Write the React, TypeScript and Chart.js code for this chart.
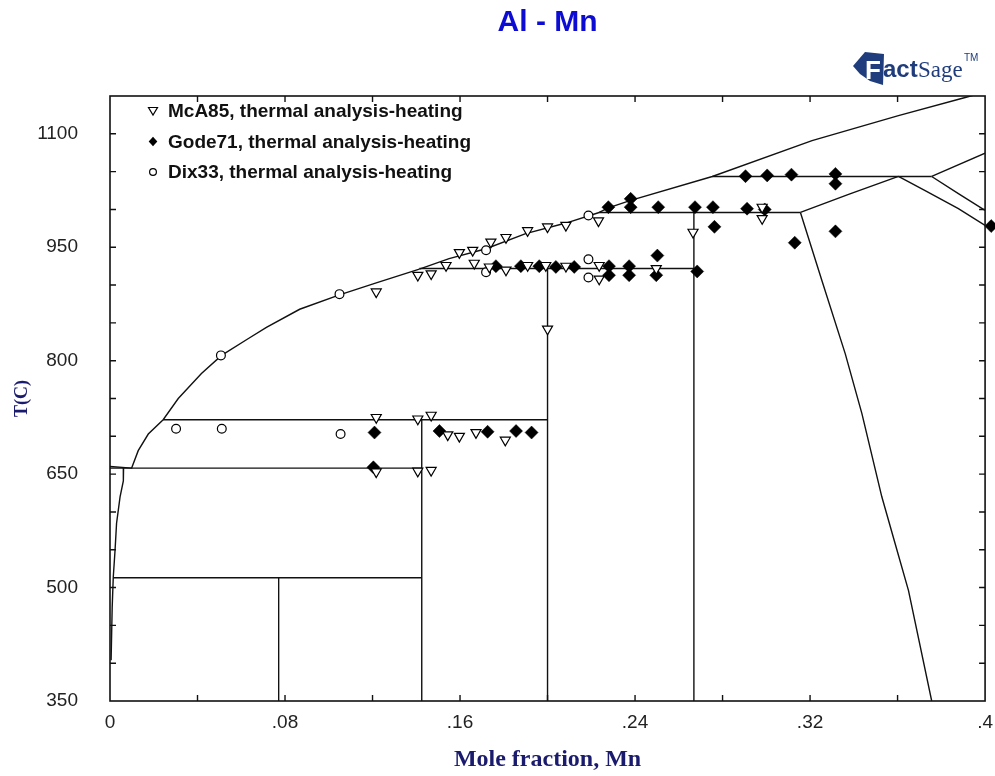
import React, { useEffect, useRef } from 'react';
import { Chart, registerables } from 'chart.js';

Chart.register(...registerables);

type P = [number, number];

// ---------- axis settings ----------
const xMin = 0;
const xMax = 0.4;
const xStep = 0.04;
const yMin = 350;
const yMax = 1150;
const yStep = 50;

// ---------- calculated phase boundaries (mole fraction Mn, T in C) ----------
const liquidusLow: P[] = [[0, 660], [0.0099, 658], [0.0129, 681], [0.0175, 703], [0.0243, 722], [0.0312, 750], [0.0418, 783], [0.051, 807], [0.0631, 829], [0.0715, 844], [0.0867, 868], [0.1049, 887], [0.1217, 903], [0.1414, 921]];
const liquidusMid: P[] = [[0.1414, 921], [0.155, 935], [0.1719, 948], [0.19, 968], [0.2084, 982], [0.2236, 996]];
const liquidusHigh: P[] = [[0.2236, 996], [0.2278, 1002], [0.238, 1012], [0.2753, 1043.6], [0.3209, 1091], [0.3604, 1124], [0.3909, 1148], [0.396, 1152]];
const solvusAl: P[] = [[0.0062, 658], [0.0061, 641], [0.0046, 620], [0.003, 585], [0.0023, 549], [0.0015, 514], [0.001, 474], [0.0005, 404]];
const eutectic658: P[] = [[0, 658], [0.1425, 658]];
const peritectic722: P[] = [[0.0243, 722], [0.2, 722]];
const line513: P[] = [[0.0015, 513], [0.1425, 513]];
const al12mn: P[] = [[0.0771, 350], [0.0771, 513]];
const al6mn: P[] = [[0.1425, 350], [0.1425, 722]];
const al4mn: P[] = [[0.2, 350], [0.2, 922]];
const peritectic922: P[] = [[0.1414, 922], [0.2669, 922]];
const al11mn4: P[] = [[0.2669, 350], [0.2669, 996]];
const peritectic996: P[] = [[0.2236, 996], [0.3156, 996]];
const peritectic1044: P[] = [[0.2753, 1043.6], [0.3756, 1043.6]];
const boundaryA: P[] = [[0.3156, 996], [0.3376, 1020], [0.3604, 1043.6]];
const boundaryB: P[] = [[0.3604, 1043.6], [0.3726, 1025], [0.3878, 1001], [0.4, 979]];
const boundaryC: P[] = [[0.3756, 1043.6], [0.3878, 1021], [0.4, 998.6]];
const boundaryD: P[] = [[0.3756, 1043.6], [0.4, 1074.4]];
const boundaryE: P[] = [[0.3156, 996], [0.3254, 906], [0.3361, 809], [0.3437, 730], [0.3528, 620], [0.3589, 558], [0.365, 496], [0.3756, 350]];

const phaseLines: P[][] = [liquidusLow, liquidusMid, liquidusHigh, solvusAl, eutectic658, peritectic722, line513, al12mn, al6mn, al4mn, peritectic922, al11mn4, peritectic996, peritectic1044, boundaryA, boundaryB, boundaryC, boundaryD, boundaryE];

// ---------- experimental points ----------
const mca85X = [0.1217, 0.1407, 0.1468, 0.1217, 0.1407, 0.1468, 0.1544, 0.1597, 0.1673, 0.1807, 0.2, 0.1217, 0.1407, 0.1468, 0.1536, 0.1597, 0.1658, 0.1741, 0.181, 0.1909, 0.2, 0.2084, 0.2233, 0.1665, 0.1734, 0.181, 0.1909, 0.1992, 0.2084, 0.2236, 0.2236, 0.2497, 0.2665, 0.2981, 0.2981];
const mca85T = [725, 723, 728, 653, 654, 655, 702, 700, 705, 695, 842, 891, 913, 915, 926, 943, 946, 957, 963, 972, 977, 979, 985, 929, 924, 920, 926, 926, 925, 926, 908, 922, 970, 1003, 988];

const gode71X = [0.1209, 0.1204, 0.1506, 0.1726, 0.1856, 0.1927, 0.1764, 0.1878, 0.1962, 0.2038, 0.2122, 0.2281, 0.2281, 0.2373, 0.2373, 0.2502, 0.2497, 0.2684, 0.2278, 0.238, 0.238, 0.2506, 0.2674, 0.2756, 0.2763, 0.2912, 0.2993, 0.313, 0.3316, 0.2905, 0.3004, 0.3115, 0.3316, 0.3316, 0.4028];
const gode71T = [705, 659, 707, 706, 707, 705, 925, 925, 925, 924, 924, 925, 913, 925, 913, 939, 913, 918, 1003, 1014, 1003, 1003, 1003, 1003, 977, 1001, 1000, 956, 971, 1044, 1045, 1046, 1047, 1034, 978];

const dix33X = [0.0302, 0.0511, 0.0507, 0.1054, 0.1049, 0.1719, 0.1719, 0.2187, 0.2187, 0.2187];
const dix33T = [710, 710, 807, 703, 888, 946, 917, 992, 934, 910];

const seriesLabels = ['McA85, thermal analysis-heating', 'Gode71, thermal analysis-heating', 'Dix33, thermal analysis-heating'];

const toPts = (xs: number[], ys: number[]) => xs.map((x, i) => ({ x, y: ys[i] }));

const sans = "'Liberation Sans', Arial, sans-serif";
const serif = "'Liberation Serif', 'Times New Roman', serif";
const navy = '#1b1b6e';

const frameTicksPlugin = {
  id: 'frameTicks',
  afterDatasetsDraw(chart: any) {
    const { ctx, chartArea: a, scales } = chart;
    const xs = scales.x;
    const ys = scales.y;
    ctx.save();
    ctx.strokeStyle = '#111';
    ctx.lineWidth = 1.6;
    ctx.strokeRect(a.left, a.top, a.right - a.left, a.bottom - a.top);
    ctx.lineWidth = 1.4;
    ctx.beginPath();
    const L = 6;
    xs.ticks.forEach((t: any) => {
      const px = xs.getPixelForValue(t.value);
      if (px <= a.left + 2 || px >= a.right - 2) return;
      ctx.moveTo(px, a.bottom);
      ctx.lineTo(px, a.bottom - L);
      ctx.moveTo(px, a.top);
      ctx.lineTo(px, a.top + L);
    });
    ys.ticks.forEach((t: any) => {
      const py = ys.getPixelForValue(t.value);
      if (py <= a.top + 2 || py >= a.bottom - 2) return;
      ctx.moveTo(a.left, py);
      ctx.lineTo(a.left + L, py);
      ctx.moveTo(a.right, py);
      ctx.lineTo(a.right - L, py);
    });
    ctx.stroke();
    ctx.restore();
  },
};

const insideLegendPlugin = {
  id: 'insideLegend',
  afterDraw(chart: any) {
    const { ctx, chartArea: a } = chart;
    ctx.save();
    const mx = a.left + 43;
    const tx = a.left + 58;
    seriesLabels.forEach((label, i) => {
      const y = a.top + 15 + i * 30.5;
      ctx.strokeStyle = '#000';
      ctx.lineWidth = 1.2;
      ctx.beginPath();
      if (i === 0) {
        ctx.moveTo(mx - 4.5, y - 3.5);
        ctx.lineTo(mx + 4.5, y - 3.5);
        ctx.lineTo(mx, y + 4);
        ctx.closePath();
        ctx.fillStyle = '#fff';
        ctx.fill();
        ctx.stroke();
      } else if (i === 1) {
        ctx.moveTo(mx, y - 4.8);
        ctx.lineTo(mx + 4.3, y);
        ctx.lineTo(mx, y + 4.8);
        ctx.lineTo(mx - 4.3, y);
        ctx.closePath();
        ctx.fillStyle = '#000';
        ctx.fill();
      } else {
        ctx.arc(mx, y, 3.4, 0, Math.PI * 2);
        ctx.fillStyle = '#fff';
        ctx.fill();
        ctx.stroke();
      }
      ctx.fillStyle = '#111';
      ctx.font = `bold 19px ${sans}`;
      ctx.textAlign = 'left';
      ctx.textBaseline = 'middle';
      ctx.fillText(label, tx, y + 1);
    });
    ctx.restore();
  },
};

const logoPlugin = {
  id: 'logo',
  afterDraw(chart: any) {
    const { ctx } = chart;
    ctx.save();
    const c = '#1f3d7c';
    ctx.fillStyle = c;
    ctx.beginPath();
    ctx.moveTo(853, 66);
    ctx.lineTo(865, 52);
    ctx.lineTo(884, 54);
    ctx.lineTo(883, 85);
    ctx.lineTo(870, 81);
    ctx.lineTo(860, 74);
    ctx.closePath();
    ctx.fill();
    ctx.fillStyle = '#fff';
    ctx.font = `bold 26px ${sans}`;
    ctx.textBaseline = 'alphabetic';
    ctx.textAlign = 'left';
    ctx.fillText('F', 865, 79);
    ctx.fillStyle = c;
    ctx.font = `bold 24px ${sans}`;
    ctx.fillText('act', 883, 77);
    ctx.font = `23px ${serif}`;
    ctx.fillText('Sage', 918, 77);
    ctx.font = `10px ${sans}`;
    ctx.fillText('TM', 964, 61);
    ctx.restore();
  },
};

export default function App() {
  const ref = useRef<HTMLCanvasElement | null>(null);

  useEffect(() => {
    if (!ref.current) return;
    const lineSets = phaseLines.map((seg) => ({
      type: 'scatter' as const,
      data: seg.map(([x, y]) => ({ x, y })),
      showLine: true,
      borderColor: '#111',
      borderWidth: 1.4,
      pointRadius: 0,
      fill: false,
      order: 2,
    }));
    const chart = new Chart(ref.current, {
      type: 'scatter',
      data: {
        datasets: [
          {
            label: seriesLabels[0],
            data: toPts(mca85X, mca85T),
            pointStyle: 'triangle',
            rotation: 180,
            pointRadius: 5.8,
            backgroundColor: '#fff',
            borderColor: '#000',
            borderWidth: 1.2,
            order: 0,
          } as any,
          {
            label: seriesLabels[1],
            data: toPts(gode71X, gode71T),
            pointStyle: 'rectRot',
            pointRadius: 6.5,
            backgroundColor: '#000',
            borderColor: '#000',
            borderWidth: 0.5,
            order: 0,
            clip: false,
          } as any,
          {
            label: seriesLabels[2],
            data: toPts(dix33X, dix33T),
            pointStyle: 'circle',
            pointRadius: 4.4,
            backgroundColor: '#fff',
            borderColor: '#000',
            borderWidth: 1.2,
            order: 0,
          } as any,
          ...lineSets,
        ],
      },
      options: {
        responsive: false,
        animation: false,
        events: [],
        layout: { padding: { left: 0, right: 0, top: 0, bottom: 0 } },
        plugins: {
          legend: { display: false },
          tooltip: { enabled: false },
          title: {
            display: true,
            text: 'Al - Mn',
            color: '#0c0cd2',
            fullSize: false,
            font: { family: sans, size: 30, weight: 'bold' },
            padding: { top: 5, bottom: 55 },
          },
        },
        scales: {
          x: {
            type: 'linear',
            min: xMin,
            max: xMax,
            grid: { display: false },
            border: { display: false },
            ticks: {
              stepSize: xStep,
              autoSkip: false,
              maxRotation: 0,
              padding: 2,
              color: '#222',
              font: { family: sans, size: 19 },
              callback: (v: any) => {
                const n = Math.round(Number(v) * 100);
                if (n % 8 !== 0) return '';
                if (n === 0) return '0';
                return String(n / 100).replace(/^0/, '');
              },
            },
            title: {
              display: true,
              text: 'Mole fraction, Mn',
              color: navy,
              font: { family: serif, size: 24, weight: 'bold' },
              padding: { top: 0, bottom: 2 },
            },
            afterFit: (s: any) => {
              s.height = 75;
            },
          },
          y: {
            type: 'linear',
            min: yMin,
            max: yMax,
            grid: { display: false },
            border: { display: false },
            ticks: {
              stepSize: yStep,
              autoSkip: false,
              padding: 24,
              color: '#222',
              font: { family: sans, size: 19 },
              callback: (v: any) => {
                const n = Math.round(Number(v));
                return (n - 350) % 150 === 0 ? String(n) : '';
              },
            },
            title: {
              display: true,
              text: 'T(C)',
              color: navy,
              font: { family: serif, size: 18, weight: 'bold' },
              padding: { top: 12, bottom: 0 },
            },
            afterFit: (s: any) => {
              s.width = 110;
            },
          },
        },
      } as any,
      plugins: [frameTicksPlugin, insideLegendPlugin, logoPlugin],
    });
    return () => chart.destroy();
  }, []);

  return (
    <div style={{ position: 'absolute', left: 0, top: 0, width: 995, height: 776, background: '#fff' }}>
      <canvas ref={ref} width={995} height={776} />
    </div>
  );
}
